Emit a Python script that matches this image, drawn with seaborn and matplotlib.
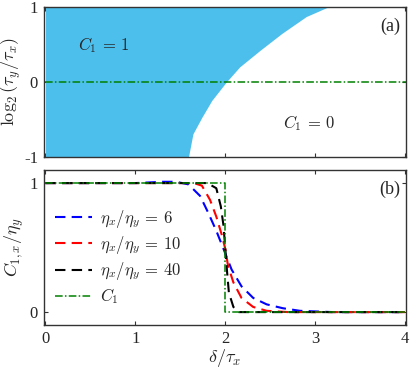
"""Phase diagram (a) + C_{1,x}/eta_y curves (b)."""
import matplotlib
matplotlib.use("Agg")
import matplotlib.pyplot as plt
import numpy as np
import pandas as pd
import seaborn as sns

# (a) boundary of the C1 = 1 region
bound_y = [-1.0, -0.69, -0.468, -0.244, 0.0, 0.203, 0.427, 0.65, 0.874, 1.0]
bound_delta = [1.59, 1.64, 1.74, 1.85, 2.01, 2.16, 2.39, 2.63, 2.90, 3.14]

# (b) curves
delta_6 = [0.0, 0.5, 1.0, 1.3, 1.45, 1.59, 1.72, 1.81, 1.90, 1.98, 2.07, 2.18,
           2.31, 2.46, 2.64, 2.83, 3.2, 4.0]
c_6 = [1.0, 1.0, 1.0, 1.01, 1.01, 0.99, 0.90, 0.77, 0.63, 0.49, 0.33, 0.20,
       0.11, 0.06, 0.03, 0.01, 0.0, 0.0]
delta_10 = [0.0, 0.5, 1.0, 1.5, 1.65, 1.74, 1.83, 1.90, 1.96, 2.00, 2.03, 2.09,
            2.18, 2.31, 2.46, 2.7, 4.0]
c_10 = [1.0, 1.0, 1.0, 1.0, 1.0, 0.98, 0.87, 0.74, 0.60, 0.49, 0.36, 0.23,
        0.11, 0.04, 0.01, 0.0, 0.0]
delta_40 = [0.0, 0.5, 1.0, 1.5, 1.8, 1.90, 1.95, 1.98, 2.00, 2.02, 2.04, 2.09,
            2.15, 2.5, 4.0]
c_40 = [1.0, 1.0, 1.0, 1.0, 1.0, 0.96, 0.82, 0.67, 0.49, 0.31, 0.15, 0.04,
        0.0, 0.0, 0.0]
delta_c1 = [0.0, 2.0, 2.0, 4.0]
c1 = [1.0, 1.0, 0.0, 0.0]

ratio_labels = [r"$\eta_x/\eta_y\,=\,6$", r"$\eta_x/\eta_y\,=\,10$", r"$\eta_x/\eta_y\,=\,40$"]
curve_colors = ["#0000ff", "#ff0000", "#000000"]

sns.set_style("ticks")
plt.rcParams["font.family"] = ["Liberation Serif", "DejaVu Serif"]
plt.rcParams["mathtext.fontset"] = "cm"
plt.rcParams["xtick.direction"] = "in"
plt.rcParams["ytick.direction"] = "in"

fig = plt.figure(figsize=(4.16, 3.74), dpi=100)
ax_a = fig.add_axes([0.105, 0.580, 0.871, 0.401])
ax_b = fig.add_axes([0.105, 0.131, 0.871, 0.414])

FILL = "#4dbfed"
GREEN = "#008000"
DASHDOT = (0, (5, 1.5, 1, 1.5))

# --- (a)
ax_a.fill_betweenx(bound_y, 0, bound_delta, color=FILL, lw=0)
sns.lineplot(x=[0, 4.01], y=[0, 0], ax=ax_a, color=GREEN, lw=1.1,
             linestyle=DASHDOT, estimator=None)
ax_a.set_xlim(-0.02, 4.01)
ax_a.set_ylim(-1, 1)
ax_a.set_xticks([0, 1, 2, 3, 4])
ax_a.set_xticklabels([])
ax_a.set_yticks([-1, 0, 1])
ax_a.set_yticklabels(["-1", "0", "1"])
ax_a.set_ylabel(r"$\log_2(\tau_y/\tau_x)$", fontsize=13, labelpad=1)
ax_a.text(0.65, 0.5, r"$C_1\,=\,1$", fontsize=12, ha="center", va="center")
ax_a.text(2.93, -0.55, r"$C_1\,=\,0$", fontsize=12, ha="center", va="center")
ax_a.text(0.985, 0.93, "(a)", transform=ax_a.transAxes, fontsize=13,
          ha="right", va="top")

# --- (b)
for d, c, lab, col in zip([delta_6, delta_10, delta_40], [c_6, c_10, c_40],
                          ratio_labels, curve_colors):
    df = pd.DataFrame({"delta": d, "c": c})
    sns.lineplot(data=df, x="delta", y="c", ax=ax_b, color=col, lw=1.5,
                 linestyle=(0, (5, 3)), label=lab, sort=False, estimator=None)
df_c1 = pd.DataFrame({"delta": delta_c1, "c": c1})
sns.lineplot(data=df_c1, x="delta", y="c", ax=ax_b, color=GREEN, lw=1.1,
             linestyle=DASHDOT, label=r"$C_1$", sort=False, estimator=None)
ax_b.set_xlim(-0.02, 4.01)
ax_b.set_ylim(-0.1, 1.1)
ax_b.set_xticks([0, 1, 2, 3, 4])
ax_b.set_yticks([0, 1])
ax_b.set_xlabel(r"$\delta/\tau_x$", fontsize=13, labelpad=0)
ax_b.set_ylabel(r"$C_{1,x}/\eta_y$", fontsize=13, labelpad=3)
ax_b.text(0.985, 0.93, "(b)", transform=ax_b.transAxes, fontsize=13,
          ha="right", va="top")
ax_b.legend(loc="upper left", bbox_to_anchor=(0.0, 0.83), frameon=False,
            fontsize=12, handlelength=2.2, handletextpad=0.5,
            labelspacing=0.25, borderaxespad=0.3)

for ax in (ax_a, ax_b):
    ax.tick_params(top=True, right=True, labelsize=12, length=3, width=0.8,
                   color="#333333", pad=4)
    for sp in ax.spines.values():
        sp.set_visible(True)
        sp.set_color("#333333")
        sp.set_linewidth(1.0)

fig.savefig("out.png", dpi=100)
